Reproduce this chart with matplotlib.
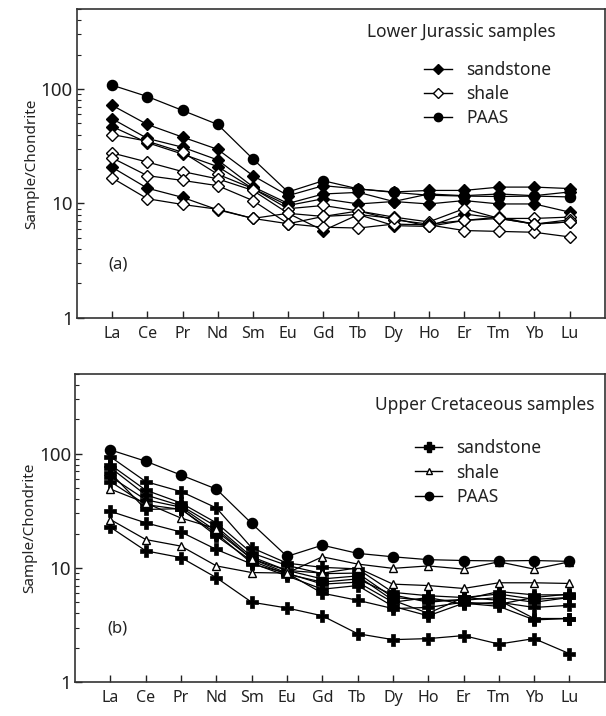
import matplotlib
matplotlib.use("Agg")
import matplotlib.pyplot as plt
from matplotlib.lines import Line2D
from matplotlib.ticker import LogLocator, NullFormatter

plt.rcParams['font.family'] = ['Noto Sans', 'DejaVu Sans']
plt.rcParams['text.color'] = '#222222'
plt.rcParams['xtick.color'] = '#222222'
plt.rcParams['ytick.color'] = '#222222'
plt.rcParams['axes.labelcolor'] = '#222222'

ree = ["La", "Ce", "Pr", "Nd", "Sm", "Eu", "Gd", "Tb", "Dy", "Ho", "Er", "Tm", "Yb", "Lu"]

paas = [108, 86, 65, 49, 24.5, 12.6, 15.8, 13.4, 12.5, 11.8, 11.6, 11.5, 11.6, 11.4]

# (a) Lower Jurassic
jur_sandstone = [
    [72, 49, 38, 29.7, 17.5, 11.7, 14.3, 13.4, 12.6, 13.0, 13.0, 13.9, 13.9, 13.5],
    [55, 37, 31, 24, 14, 10.0, 12.1, 12.5, 10.4, 12.1, 11.7, 12.1, 11.7, 12.6],
    [47, 34, 27, 21, 13.5, 9.6, 11.0, 9.9, 10.4, 9.9, 10.6, 9.9, 9.9, 8.4],
    [20.7, 13.6, 11.3, 8.8, 7.4, 8.2, 5.8, 8.0, 6.4, 6.3, 8.1, 7.4, 6.6, 6.9],
]
jur_shale = [
    [40, 35, 28, 18, 13.5, 9.0, 9.6, 8.6, 7.6, 6.9, 9.0, 7.4, 7.4, 7.6],
    [27.6, 23, 19, 16.4, 13.0, 8.2, 7.7, 8.6, 7.2, 6.6, 7.1, 7.6, 6.6, 7.2],
    [25, 17.5, 15.9, 14.3, 10.6, 6.65, 6.2, 6.1, 6.6, 6.5, 5.8, 5.7, 5.6, 5.1],
    [16.7, 11, 9.8, 8.9, 7.4, 6.65, 7.7, 8.0, 7.4, 6.3, 7.1, 7.4, 6.6, 6.9],
]

# (b) Upper Cretaceous
cre_sandstone = [
    [94, 57, 46.6, 33.5, 15, 11, 10.1, 9.8, 6.1, 5.7, 5.5, 5.9, 5.3, 5.5],
    [80, 48, 37, 24.8, 13.5, 10.5, 8.9, 9.0, 5.5, 5.2, 5.2, 5.5, 5.0, 5.5],
    [75.5, 43.5, 35, 23, 12.5, 9.5, 8.0, 8.5, 5.2, 4.0, 5.5, 5.2, 3.6, 3.6],
    [63, 39.5, 34, 21, 12, 9.0, 7.2, 7.5, 5.0, 5.5, 4.8, 5.0, 4.5, 4.7],
    [57, 35.8, 32.5, 20, 11, 8.5, 6.5, 7.0, 4.6, 3.8, 4.9, 4.6, 3.5, 3.6],
    [68, 32.5, 33, 19, 11.5, 8.8, 7.5, 8.0, 5.8, 5.0, 5.3, 6.2, 5.8, 5.8],
    [31.3, 24.8, 20.6, 14.5, 10.8, 9.0, 6.0, 5.2, 4.4, 4.5, 5.0, 4.8, 5.5, 5.9],
    [22.7, 14.1, 12.3, 8.2, 5.0, 4.45, 3.8, 2.65, 2.35, 2.4, 2.55, 2.15, 2.4, 1.77],
]
cre_shale = [
    [49, 37, 27.3, 22, 12, 9.5, 9.0, 10.0, 7.2, 7.0, 6.6, 7.4, 7.4, 7.3],
    [26.5, 17.7, 15.5, 10.4, 9.1, 9.0, 12.5, 10.8, 9.9, 10.4, 9.75, 11.3, 9.75, 11.3],
]

x = list(range(len(ree)))

fig = plt.figure(figsize=(6.06, 7.16), dpi=100)
ax1 = fig.add_axes([0.127, 0.556, 0.871, 0.4314])
ax2 = fig.add_axes([0.124, 0.0475, 0.874, 0.4302])


def style_axis(ax, tag):
    ax.set_yscale('log')
    ax.set_ylim(1, 500)
    ax.set_xlim(-1, 14)
    ax.set_xticks(x)
    ax.set_xticklabels(ree, fontsize=11.5)
    ax.set_yticks([1, 10, 100])
    ax.set_yticklabels(['1', '10', '100'], fontsize=13.5)
    ax.yaxis.set_minor_locator(LogLocator(base=10, subs=range(2, 10)))
    ax.yaxis.set_minor_formatter(NullFormatter())
    ax.tick_params(which='major', direction='in', length=5, width=1)
    ax.tick_params(which='minor', direction='in', length=3, width=0.8)
    ax.tick_params(axis='y', pad=3)
    ax.tick_params(axis='x', pad=6)
    for s in ax.spines.values():
        s.set_linewidth(1.2)
        s.set_color('#333333')
    ax.set_ylabel('Sample/Chondrite', fontsize=11, labelpad=1)
    ax.text(0.06, 0.16, tag, transform=ax.transAxes, fontsize=12)


kw = dict(color='black', linewidth=0.9, markersize=6.3, markeredgewidth=1)

# panel a
for v in jur_sandstone:
    ax1.plot(x, v, marker='D', markerfacecolor='black', **kw)
for v in jur_shale:
    ax1.plot(x, v, marker='D', markerfacecolor='white', **kw)
ax1.plot(x, paas, marker='o', markerfacecolor='black', color='black',
         linewidth=0.9, markersize=7.3)
style_axis(ax1, '(a)')
ax1.text(0.549, 0.925, 'Lower Jurassic samples', transform=ax1.transAxes,
         fontsize=12.5, va='center')
h1 = [Line2D([0], [0], marker='D', markerfacecolor='black', color='black', markersize=5, linewidth=1),
      Line2D([0], [0], marker='D', markerfacecolor='white', color='black', markersize=5, linewidth=1),
      Line2D([0], [0], marker='o', markerfacecolor='black', color='black', markersize=6, linewidth=1)]
ax1.legend(h1, ['sandstone', 'shale', 'PAAS'], loc='upper left', bbox_to_anchor=(0.645, 0.855),
           frameon=False, fontsize=12.5, handlelength=1.6, handletextpad=0.8,
           labelspacing=0.35, borderaxespad=0)

# panel b
for v in cre_sandstone:
    ax2.plot(x, v, marker='P', markerfacecolor='black', color='black', linewidth=0.9,
             markersize=8, markeredgewidth=0.5)
for v in cre_shale:
    ax2.plot(x, v, marker='^', markerfacecolor='white', **kw)
ax2.plot(x, paas, marker='o', markerfacecolor='black', color='black',
         linewidth=0.9, markersize=7.3)
style_axis(ax2, '(b)')
ax2.text(0.566, 0.90, 'Upper Cretaceous samples', transform=ax2.transAxes,
         fontsize=12.5, va='center')
h2 = [Line2D([0], [0], marker='P', markerfacecolor='black', color='black', markersize=7, linewidth=1),
      Line2D([0], [0], marker='^', markerfacecolor='white', color='black', markersize=5, linewidth=1),
      Line2D([0], [0], marker='o', markerfacecolor='black', color='black', markersize=6, linewidth=1)]
ax2.legend(h2, ['sandstone', 'shale', 'PAAS'], loc='upper left', bbox_to_anchor=(0.628, 0.81),
           frameon=False, fontsize=12.5, handlelength=1.6, handletextpad=0.8,
           labelspacing=0.35, borderaxespad=0)

fig.savefig('out.png', dpi=100)
